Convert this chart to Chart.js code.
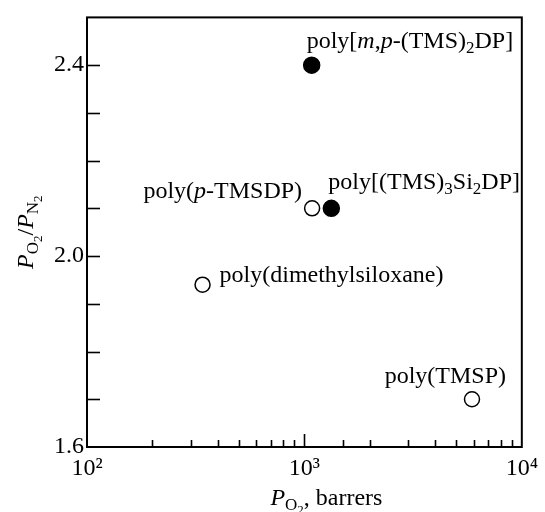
<!DOCTYPE html>
<html>
<head>
<meta charset="utf-8">
<script src="https://cdn.jsdelivr.net/npm/chart.js@4/dist/chart.umd.min.js"></script>
<style>
html,body{margin:0;padding:0;background:#fff;}
canvas{display:block;}
</style>
</head>
<body>
<canvas id="c" width="545" height="512"></canvas>
<script>
// ---- data ----
const filledNames = ["poly[<i>m</i>,<i>p</i>-(TMS)<sub>2</sub>DP]", "poly[(TMS)<sub>3</sub>Si<sub>2</sub>DP]"];
const filledPO2 = [1080, 1330];
const filledSel = [2.40, 2.10];

const openNames = ["poly(<i>p</i>-TMSDP)", "poly(dimethylsiloxane)", "poly(TMSP)"];
const openPO2 = [1085, 340, 5900];
const openSel = [2.10, 1.94, 1.70];

const xMajorTicks = [100, 1000, 10000];
const yLabelTicks = [1.6, 2.0, 2.4];

const xTitle = "<i>P</i><sub>O<sub>2</sub></sub>, barrers";
const yTitle = "<i>P</i><sub>O<sub>2</sub></sub>/<i>P</i><sub>N<sub>2</sub></sub>";

// label placement (offset from point, alignment)
const filledLabelPos = [{dx:-5, dy:-17, align:'left'}, {dx:-3, dy:-19, align:'left'}];
const openLabelPos = [{dx:-10, dy:-10, align:'right'}, {dx:17, dy:-3, align:'left'}, {dx:34, dy:-16, align:'right'}];

const FONT = "'Liberation Serif', 'Times New Roman', serif";
const BASE = 24;

function parseRich(s){
  const parts = s.split(/(<\/?i>|<\/?sub>)/).filter(p=>p!=='');
  let italic=false, level=0; const segs=[];
  for(const p of parts){
    if(p==='<i>') italic=true;
    else if(p==='</i>') italic=false;
    else if(p==='<sub>') level++;
    else if(p==='</sub>') level--;
    else segs.push({t:p, italic, level});
  }
  return segs;
}
const sizes=[BASE, 17, 13];
const shifts=[0, 5, 9];
function segFont(sg){ return (sg.italic?'italic ':'')+sizes[sg.level]+'px '+FONT; }
function richWidth(ctx, segs){
  let w=0; for(const sg of segs){ctx.font=segFont(sg); w+=ctx.measureText(sg.t).width;} return w;
}
function drawRich(ctx, s, x, y, align){
  const segs=parseRich(s);
  const w=richWidth(ctx,segs);
  let cx = align==='right'? x-w : align==='center'? x-w/2 : x;
  ctx.textAlign='left'; ctx.textBaseline='alphabetic'; ctx.fillStyle='#000';
  for(const sg of segs){
    ctx.font=segFont(sg);
    ctx.fillText(sg.t, cx, y+shifts[sg.level]);
    cx+=ctx.measureText(sg.t).width;
  }
}

const decor = {
  id:'decor',
  afterDatasetsDraw(chart){
    const ctx=chart.ctx, a=chart.chartArea;
    const xs=chart.scales.x, ys=chart.scales.y;
    ctx.save();
    ctx.strokeStyle='#000'; ctx.lineWidth=2;
    ctx.strokeRect(a.left, a.top, a.right-a.left, a.bottom-a.top);
    ctx.lineWidth=1.6;
    // y ticks (inside)
    ys.ticks.forEach(t=>{
      const py=Math.round(ys.getPixelForValue(t.value))+0.5;
      if(py<a.top+1||py>a.bottom-1) return;
      ctx.beginPath(); ctx.moveTo(a.left, py); ctx.lineTo(a.left+13, py); ctx.stroke();
    });
    // x ticks (inside)
    xs.ticks.forEach(t=>{
      const px=Math.round(xs.getPixelForValue(t.value))+0.5;
      if(px<a.left+1||px>a.right-1) return;
      const major=xMajorTicks.some(m=>Math.abs(m-t.value)<1e-6);
      ctx.beginPath(); ctx.moveTo(px, a.bottom); ctx.lineTo(px, a.bottom-(major?13:7)); ctx.stroke();
    });
    // point labels
    const m0=chart.getDatasetMeta(0).data, m1=chart.getDatasetMeta(1).data;
    m0.forEach((el,i)=>{const p=filledLabelPos[i]; drawRich(ctx, filledNames[i], el.x+p.dx, el.y+p.dy, p.align);});
    m1.forEach((el,i)=>{const p=openLabelPos[i]; drawRich(ctx, openNames[i], el.x+p.dx, el.y+p.dy, p.align);});
    // axis titles
    drawRich(ctx, xTitle, (a.left+a.right)/2+22, 505, 'center');
    ctx.save();
    ctx.translate(33, (a.top+a.bottom)/2);
    ctx.rotate(-Math.PI/2);
    drawRich(ctx, yTitle, 0, 0, 'center');
    ctx.restore();
    ctx.restore();
  }
};

const sup = {'2':'\u00B2','3':'\u00B3','4':'\u2074'};

new Chart(document.getElementById('c'), {
  type:'scatter',
  data:{
    datasets:[
      {data: filledPO2.map((x,i)=>({x, y:filledSel[i]})), backgroundColor:'#000', borderColor:'#000', pointRadius:8, pointBorderWidth:1.5},
      {data: openPO2.map((x,i)=>({x, y:openSel[i]})), backgroundColor:'#fff', borderColor:'#000', pointRadius:7.5, pointBorderWidth:1.5}
    ]
  },
  options:{
    responsive:false, animation:false, devicePixelRatio:1,
    layout:{padding:{top:14, right:21, left:0, bottom:0}},
    plugins:{legend:{display:false}, tooltip:{enabled:false}},
    scales:{
      x:{type:'logarithmic', min:100, max:10000, position:'bottom',
         grid:{display:false, drawTicks:false}, border:{display:false},
         ticks:{autoSkip:false, maxRotation:0, padding:7, color:'#000', font:{family:FONT, size:24},
           callback:(v)=>{const l=Math.log10(v); return Math.abs(l-Math.round(l))<1e-9 ? '10'+sup[String(Math.round(l))] : '';}},
         afterFit:(s)=>{s.height=65;}
      },
      y:{type:'linear', min:1.6, max:2.5,
         grid:{display:false, drawTicks:false}, border:{display:false},
         ticks:{stepSize:0.1, autoSkip:false, padding:3, color:'#000', font:{family:FONT, size:24},
           callback:(v)=> yLabelTicks.some(t=>Math.abs(t-v)<1e-6) ? v.toFixed(1) : ''},
         afterFit:(s)=>{s.width=87;}
      }
    }
  },
  plugins:[decor]
});
</script>
</body>
</html>
